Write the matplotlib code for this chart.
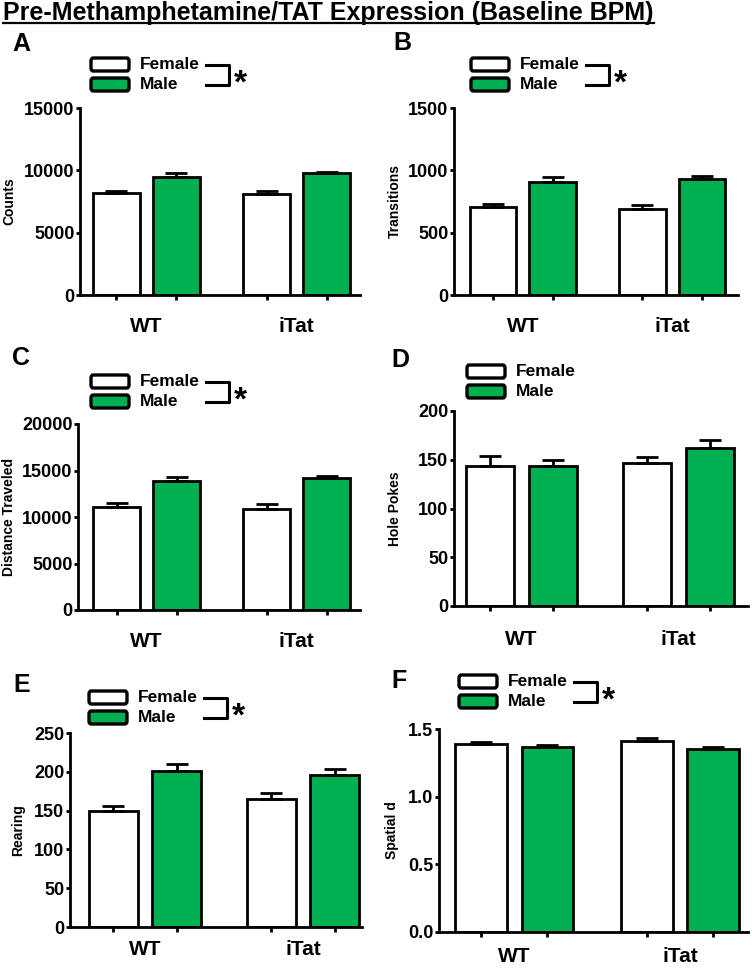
import matplotlib
matplotlib.use('Agg')
import matplotlib.pyplot as plt
from matplotlib.patches import FancyBboxPatch
from matplotlib.lines import Line2D
from matplotlib.ticker import FormatStrFormatter
import numpy as np

plt.rcParams['font.family'] = ['Liberation Sans', 'DejaVu Sans']
plt.rcParams['font.weight'] = 'bold'

# ---------------- data ----------------
title = "Pre-Methamphetamine/TAT Expression (Baseline BPM)"
groups = ['WT', 'iTat']
series = ['Female', 'Male']
female_color = '#FFFFFF'
male_color = '#00B050'

counts_female = [8200, 8100]
counts_female_err = [170, 240]
counts_male = [9500, 9750]
counts_male_err = [260, 140]

transitions_female = [703, 687]
transitions_female_err = [28, 35]
transitions_male = [909, 928]
transitions_male_err = [35, 27]

distance_female = [11100, 10880]
distance_female_err = [430, 500]
distance_male = [13860, 14150]
distance_male_err = [470, 290]

holepokes_female = [144, 147]
holepokes_female_err = [10, 5.5]
holepokes_male = [143.5, 162.3]
holepokes_male_err = [6.5, 7.5]

rearing_female = [150, 165]
rearing_female_err = [5.7, 8]
rearing_male = [201.5, 195.5]
rearing_male_err = [8, 8]

spatial_female = [1.387, 1.411]
spatial_female_err = [0.017, 0.02]
spatial_male = [1.367, 1.355]
spatial_male_err = [0.017, 0.012]

# ---------------- layout ----------------
W, H = 752, 975
fig = plt.figure(figsize=(W / 100, H / 100), dpi=100)


def fx(px):
    return px / W


def fy(py):
    return 1 - py / H


panels = [
    dict(letter='A', lpos=(12, 51), box=(80, 108, 360, 295), xlim=(-0.443, 1.423),
         ylabel='Counts', yoff=71, ymax=15000, step=5000, fmt=None, pad=22,
         f=counts_female, fe=counts_female_err, m=counts_male, me=counts_male_err,
         leg=(91, 58), sig=True),
    dict(letter='B', lpos=(393, 50), box=(454, 108, 738, 295), xlim=(-0.46, 1.44),
         ylabel='Transitions', yoff=59, ymax=1500, step=500, fmt=None, pad=22,
         f=transitions_female, fe=transitions_female_err, m=transitions_male, me=transitions_male_err,
         leg=(471, 58), sig=True),
    dict(letter='C', lpos=(12, 365), box=(78, 424, 360, 610), xlim=(-0.457, 1.423),
         ylabel='Distance Traveled', yoff=69, ymax=20000, step=5000, fmt=None, pad=22,
         f=distance_female, fe=distance_female_err, m=distance_male, me=distance_male_err,
         leg=(91, 375), sig=True),
    dict(letter='D', lpos=(391, 367), box=(454, 411, 748, 606), xlim=(-0.43, 1.443),
         ylabel='Hole Pokes', yoff=59, ymax=200, step=50, fmt=None, pad=24,
         f=holepokes_female, fe=holepokes_female_err, m=holepokes_male, me=holepokes_male_err,
         leg=(467, 365), sig=False),
    dict(letter='E', lpos=(13, 692), box=(70, 733, 362, 927), xlim=(-0.475, 1.373),
         ylabel='Rearing', yoff=52, ymax=250, step=50, fmt=None, pad=13,
         f=rearing_female, fe=rearing_female_err, m=rearing_male, me=rearing_male_err,
         leg=(89, 691), sig=True),
    dict(letter='F', lpos=(391, 688), box=(439, 729, 748, 932), xlim=(-0.453, 1.41),
         ylabel='Spatial d', yoff=47, ymax=1.5, step=0.5, fmt='%.1f', pad=15,
         f=spatial_female, fe=spatial_female_err, m=spatial_male, me=spatial_male_err,
         leg=(459, 675), sig=True),
]

colors = [female_color, male_color]
d = 0.2
bw = 0.31

for p in panels:
    l, t, r, b = p['box']
    axw, axh = r - l, b - t
    ax = fig.add_axes([fx(l), fy(b), axw / W, axh / H])
    x = np.arange(len(groups))
    allpos = []
    for i, (vals, errs, color) in enumerate([(p['f'], p['fe'], colors[0]),
                                             (p['m'], p['me'], colors[1])]):
        pos = x + (-d if i == 0 else d)
        allpos.extend(pos)
        ax.bar(pos, vals, bw, color=color, edgecolor='black', linewidth=2, zorder=2)
        ax.errorbar(pos, vals, yerr=[np.zeros(len(vals)), errs], fmt='none',
                    ecolor='black', elinewidth=2, capsize=8, capthick=2, zorder=3)
    ax.set_xlim(*p['xlim'])
    ax.set_ylim(0, p['ymax'])
    ax.set_yticks(np.arange(0, p['ymax'] + p['step'] / 2, p['step']))
    if p['fmt']:
        ax.yaxis.set_major_formatter(FormatStrFormatter(p['fmt']))
    ax.set_xticks(x)
    ax.set_xticklabels(groups, fontsize=15, fontweight='bold')
    ax.set_xticks(sorted(allpos), minor=True)
    ax.tick_params(axis='x', which='major', length=0, pad=p['pad'] * 0.72)
    ax.tick_params(axis='x', which='minor', length=3.6, width=2, direction='out')
    ax.tick_params(axis='y', which='major', length=3, width=2, direction='out',
                   pad=1, labelsize=13)
    for lab in ax.get_yticklabels():
        lab.set_fontweight('bold')
    for s in ['top', 'right']:
        ax.spines[s].set_visible(False)
    for s in ['left', 'bottom']:
        ax.spines[s].set_linewidth(2)
        ax.spines[s].set_zorder(4)
    ax.set_ylabel(p['ylabel'], fontsize=10, fontweight='bold')
    ax.yaxis.set_label_coords(-p['yoff'] / axw, 0.5)
    ax.yaxis.label.set_verticalalignment('center')

    # panel letter
    fig.text(fx(p['lpos'][0]), fy(p['lpos'][1]), p['letter'], fontsize=18,
             fontweight='bold', va='baseline', ha='left')

    # legend (drawn in figure pixel layout)
    bl, bt = p['leg']
    for j, (lab, color) in enumerate(zip(series, colors)):
        ytop = bt + j * 20
        patch = FancyBboxPatch((fx(bl), fy(ytop + 13)), 38 / W, 13 / H,
                               boxstyle='round,pad=0,rounding_size=0.003',
                               transform=fig.transFigure, facecolor=color,
                               edgecolor='black', linewidth=2.4)
        fig.add_artist(patch)
        fig.text(fx(bl + 49), fy(ytop + 6.5), lab, fontsize=12.5, fontweight='bold',
                 va='center', ha='left')
    if p['sig']:
        x0, x1 = bl + 115, bl + 138
        y0, y1 = bt + 7, bt + 27
        fig.add_artist(Line2D([fx(x0), fx(x1), fx(x1), fx(x0)],
                              [fy(y0), fy(y0), fy(y1), fy(y1)],
                              transform=fig.transFigure, color='black', lw=2.2))
        fig.text(fx(bl + 149), fy(bt + 35), '*', fontsize=24, fontweight='bold',
                 ha='center', va='baseline')

# title with underline
tt = fig.text(fx(3), fy(20), title, fontsize=18, fontweight='bold', va='baseline', ha='left')
fig.canvas.draw()
bb = tt.get_window_extent()
fig.add_artist(Line2D([bb.x0 / W, bb.x1 / W], [fy(23), fy(23)],
                      transform=fig.transFigure, color='black', lw=1.6))

fig.savefig('out.png', dpi=100)
